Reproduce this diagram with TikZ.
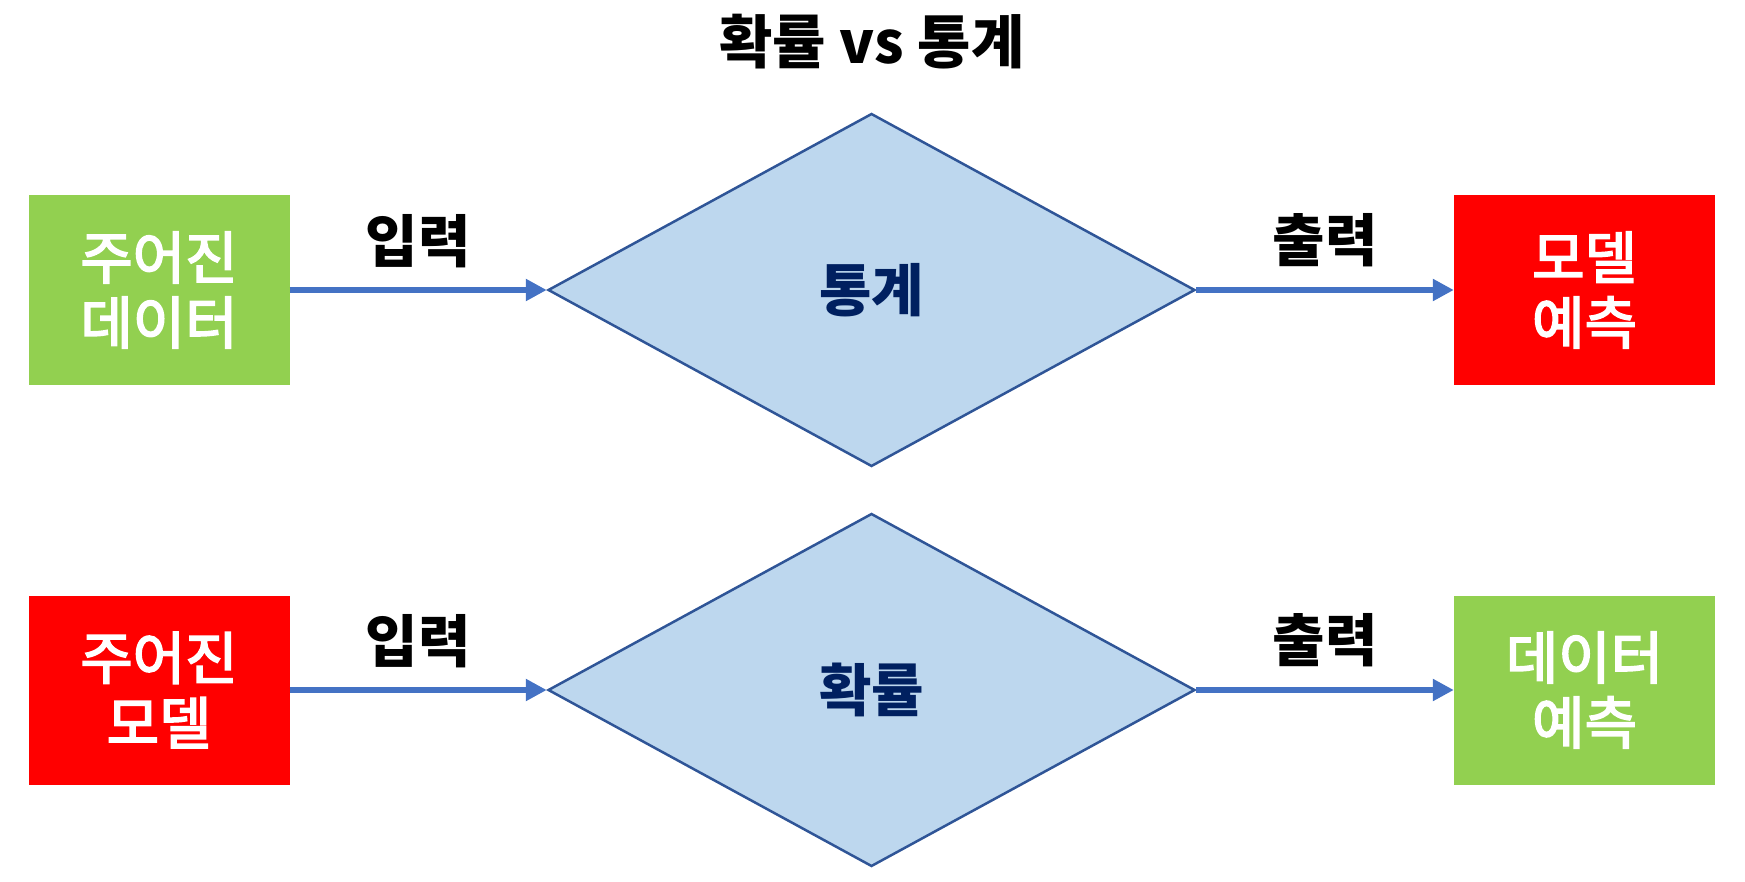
\documentclass[tikz,border=0pt]{standalone}
\usepackage{fontspec}
\setmainfont{Noto Sans CJK KR}
\newfontfamily\krbox{Noto Sans CJK KR}[FakeBold=3]
\usetikzlibrary{shapes.geometric,arrows.meta}
\definecolor{boxgreen}{HTML}{92D050}
\definecolor{boxred}{HTML}{FF0000}
\definecolor{dfill}{HTML}{BDD7EE}
\definecolor{dline}{HTML}{2F5597}
\definecolor{arr}{HTML}{4472C4}
\definecolor{dtext}{HTML}{002060}
\tikzset{
  box/.style={rectangle, minimum width=261pt, minimum height=189pt, inner sep=0pt,
    text=white, align=center, font=\krbox\fontsize{57}{65}\selectfont},
  gbox/.style={box, fill=boxgreen},
  rbox/.style={box, fill=boxred},
  dia/.style={diamond, minimum width=647pt, minimum height=353pt, inner sep=0pt,
    fill=dfill, draw=dline, line width=2.5pt, text=dtext, font=\fontsize{57}{65}\selectfont\bfseries},
  flow/.style={draw=arr, line width=6pt, -{Triangle[length=21pt,width=21pt]}},
  lab/.style={font=\fontsize{57}{65}\selectfont\bfseries, text=black},
  ttl/.style={font=\fontsize{58}{65}\selectfont\bfseries, text=black},
}
\begin{document}
\begin{tikzpicture}[x=1pt,y=-1pt]
\useasboundingbox (0,0) rectangle (1745,882);
\node[ttl] (title) at (872,42) {확률 vs 통계};
% upper row
\node[gbox] (in1) at (159,290) {주어진\\데이터};
\node[dia] (d1) at (871.5,290) {통계};
\node[rbox] (out1) at (1584.5,290) {모델\\예측};
\draw[flow] (in1.east) -- node[lab, midway, yshift=49pt] (l1) {입력} (d1.west);
\draw[flow] (d1.east) -- node[lab, midway, yshift=50pt] (l2) {출력} (out1.west);
% lower row
\node[rbox] (in2) at (159,690) {주어진\\모델};
\node[dia] (d2) at (871.5,690) {확률};
\node[gbox] (out2) at (1584.5,690) {데이터\\예측};
\draw[flow] (in2.east) -- node[lab, midway, yshift=49pt] (l3) {입력} (d2.west);
\draw[flow] (d2.east) -- node[lab, midway, yshift=50pt] (l4) {출력} (out2.west);
\end{tikzpicture}
\end{document}
